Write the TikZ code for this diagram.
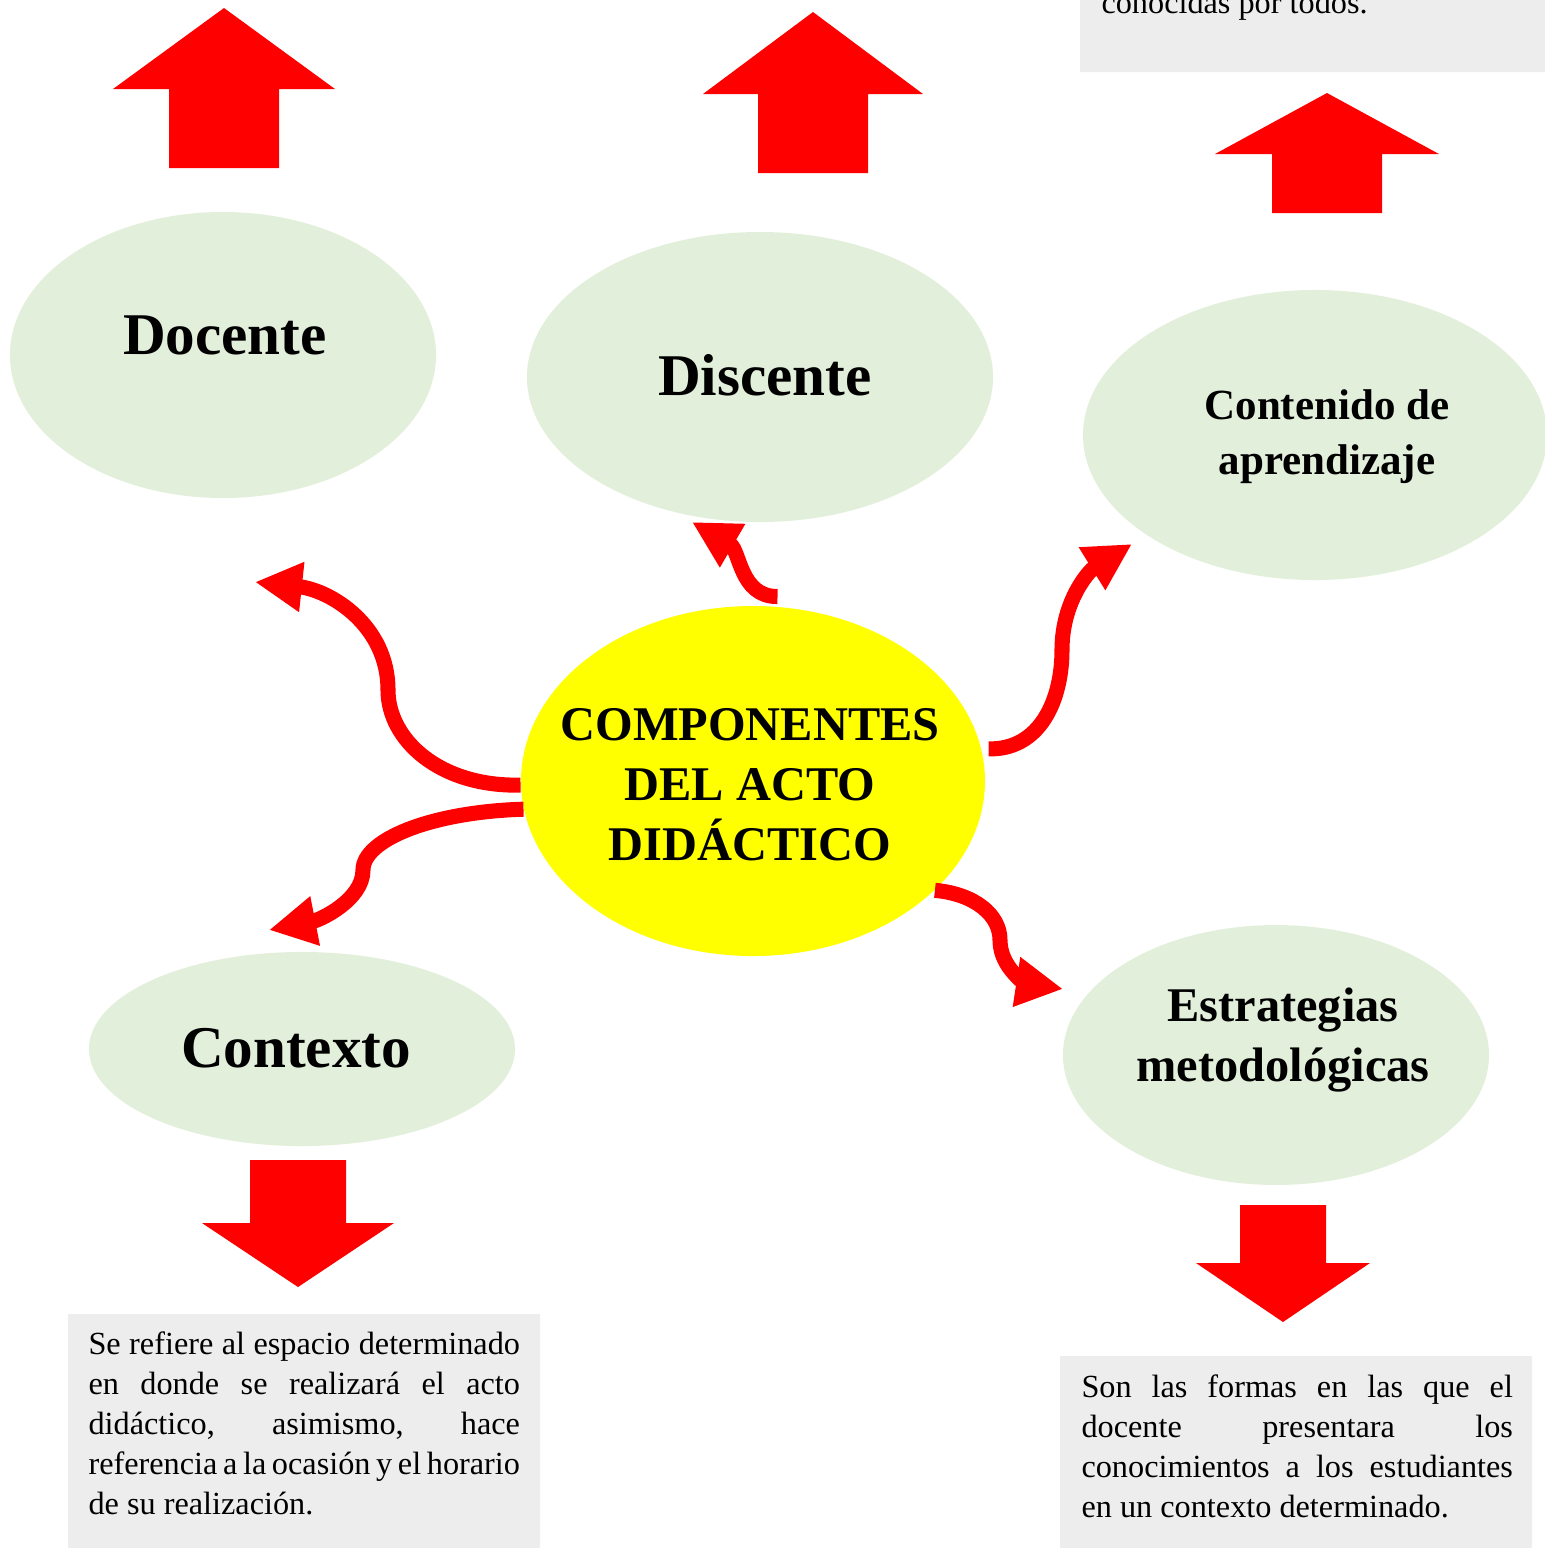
\documentclass[tikz,border=0pt]{standalone}
\usepackage{fontspec}
\setmainfont{Liberation Serif}
\usetikzlibrary{shapes.geometric,arrows.meta}
\definecolor{verdeclaro}{HTML}{E2EFDA}
\definecolor{grisclaro}{HTML}{EDEDED}
\definecolor{amarillo}{RGB}{255,255,0}
\definecolor{rojo}{RGB}{255,0,0}
\tikzset{
	elipse/.style={ellipse,fill=verdeclaro,inner sep=0pt},
	titulo/.style={font=\fontsize{22}{26}\selectfont\bfseries},
	flecha/.style={rojo,line width=5.6pt,-{Triangle[length=17.5pt,width=17.5pt]}},
	caja/.style={text width=160.5pt,align=justify,inner sep=0pt,anchor=north west,
		font=\fontsize{12}{14.9}\selectfont}
}

\begin{document}
\begin{tikzpicture}[x=0.372pt,y=-0.372pt]
	\useasboundingbox (0,0) rectangle (1545,1548);
	\fill[grisclaro] (1080,-40) rectangle (1545,72)
	(68,1314) rectangle (540,1570) (1060,1356) rectangle (1532,1570);
	\foreach \x/\y/\w/\h/\nom in {223/355/158.5/106.4/docente,
		760/377/173.4/107.9/discente,1315/435/172.6/107.9/contenido,
		302/1049/158.5/72.2/contexto,1276/1055/158.5/96.7/estrategias}
	\path (\x,\y) node[elipse,minimum width=\w pt,minimum height=\h pt](\nom){};
	\node[ellipse,fill=amarillo,inner sep=0pt,minimum width=172.6pt,
	minimum height=130.2pt] (cen) at (753,781) {};
	\foreach \x/\s/\h/\t/\b/\e in {224/55/111/8/89/168,
		813/55/110/12/94/173,1327/55/112/93/154/213,
		298/48/96/1287/1223/1160,1283/43/87/1322/1263/1205}
	\fill[rojo] (\x-\s,\e)--(\x-\s,\b)--(\x-\h,\b)--(\x,\t)
	--(\x+\h,\b)--(\x+\s,\b)--(\x+\s,\e)--cycle;
	\foreach \x/\y/\nom/\texto in {225/335/tdocente/Docente,
		765/375/tdiscente/Discente,296/1048/tcontexto/Contexto}
	\path (\x,\y) node[titulo](\nom){\texto};
	\node[align=center,font=\fontsize{16}{20.5}\selectfont\bfseries]
	(tcontenido) at (1327,437) {Contenido de\\aprendizaje};
	\node[align=center,font=\fontsize{18}{22.3}\selectfont\bfseries]
	(testrategias) at (1283,1040) {Estrategias\\metodológicas};
	\node[align=center,font=\fontsize{18}{22.3}\selectfont\bfseries]
	(tcen) at (750,785) {COMPONENTES\\DEL ACTO\\DIDÁCTICO};
	\node[anchor=base west,inner sep=0pt,font=\fontsize{12}{14.9}\selectfont]
	(dcontenido) at (1101,13) {conocidas por todos.};
	\node[caja] (dcontexto) at (88,1331) {Se refiere al espacio determinado\linebreak
		en donde se realizará el acto\linebreak didáctico, asimismo, hace\linebreak
		referencia a la ocasión y el horario\linebreak de su realización.};
	\node[caja] (destrategias) at (1081,1374) {Son las formas en las que el\linebreak
		docente presentara los\linebreak conocimientos a los estudiantes\linebreak
		en un contexto determinado.};
	\coordinate (pdocente) at (255,582);
	\coordinate (pdiscente) at (692,522);
	\coordinate (pcontenido) at (1132,544);
	\coordinate (pcontexto) at (269,930);
	\coordinate (pestrategias) at (1063,989);
	\draw[flecha] (cen.181) .. controls (440,787) and (388,740) .. (388,690)
	.. controls (388,625) and (330,590) .. (pdocente);
	\draw[flecha] ([yshift=3.7pt]cen.82) .. controls (740,597) and (740,550) .. (pdiscente);
	\draw[flecha] ([xshift=2.6pt]cen.8) .. controls (1040,750) and (1062,700) .. (1062,650)
	.. controls (1062,600) and (1090,570) .. (pcontenido);
	\draw[flecha] (cen.187.6) .. controls (430,812) and (363,840) .. (363,870)
	.. controls (363,900) and (320,920) .. (pcontexto);
	\draw[flecha] (cen.-31.8) .. controls (975,894) and (1000,915) .. (1000,940)
	.. controls (1000,970) and (1030,984) .. (pestrategias);
\end{tikzpicture}
\end{document}
